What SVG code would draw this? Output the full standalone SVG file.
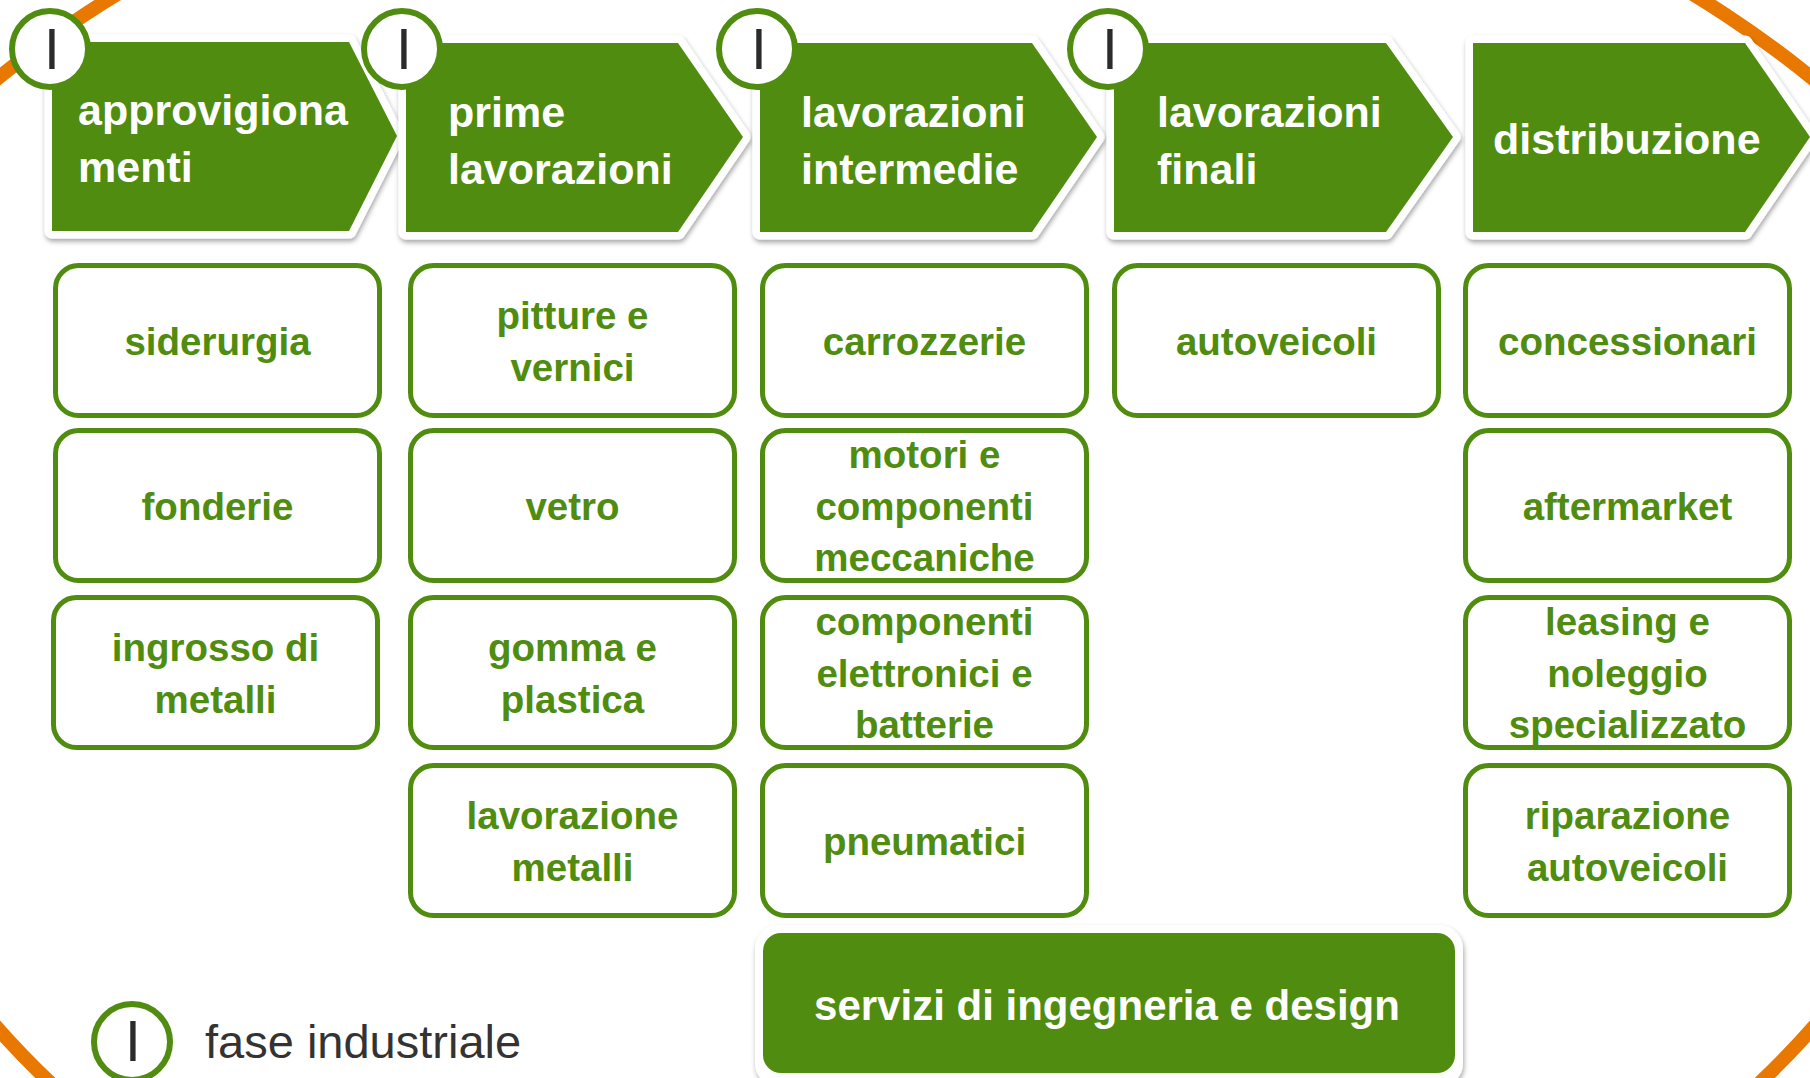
<svg xmlns="http://www.w3.org/2000/svg" width="1810" height="1078" viewBox="0 0 1810 1078">
<defs>
<filter id="sh" x="-10%" y="-10%" width="120%" height="130%">
<feDropShadow dx="1" dy="3" stdDeviation="2.5" flood-color="#000" flood-opacity="0.35"/>
</filter>
<clipPath id="topHalf"><rect x="-500" y="-500" width="2810" height="1045"/></clipPath>
<clipPath id="botHalf"><rect x="-500" y="545" width="2810" height="1000"/></clipPath>
<style>
.g{fill:#4f8c0f}
.arc{fill:none;stroke:#e87800;stroke-width:14}
.plate{fill:#fff;stroke:#fff;stroke-width:15;stroke-linejoin:round}
.ring{fill:#fff;stroke:#4f8c0f;stroke-width:6}
.num{font-family:"Liberation Sans",Arial,sans-serif;font-size:57px;fill:#2b2b2b;text-anchor:middle}
.ct{font-family:"Liberation Sans",Arial,sans-serif;font-weight:bold;font-size:43px;fill:#fff}
.box rect{fill:#fff;stroke:#4f8c0f;stroke-width:5}
.bt{font-family:"Liberation Sans",Arial,sans-serif;font-weight:bold;font-size:38.5px;fill:#4f8c0f;text-anchor:middle}
</style>
</defs>
<rect width="1810" height="1078" fill="#fff"/>
<g id="frame">
<ellipse class="arc" clip-path="url(#topHalf)" cx="905" cy="552" rx="1160" ry="760"/>
<ellipse class="arc" clip-path="url(#botHalf)" cx="905" cy="547" rx="1100" ry="851"/>
</g>

<g id="phase1">
<polygon class="plate" filter="url(#sh)" points="52,42 349,42 397,136 349,231 52,231"/>
<polygon class="g" points="52,42 349,42 397,136 349,231 52,231"/>
<circle class="ring" cx="50" cy="49" r="38"/>
<text class="num" x="52" y="69">I</text>
<text class="ct" x="78" y="125">approvigiona</text>
<text class="ct" x="78" y="182">menti</text>
</g>
<g id="phase2">
<polygon class="plate" filter="url(#sh)" points="406,43 678,43 743,137 678,232 406,232"/>
<polygon class="g" points="406,43 678,43 743,137 678,232 406,232"/>
<circle class="ring" cx="402" cy="49" r="38"/>
<text class="num" x="404" y="69">I</text>
<text class="ct" x="448" y="127">prime</text>
<text class="ct" x="448" y="184">lavorazioni</text>
</g>
<g id="phase3">
<polygon class="plate" filter="url(#sh)" points="760,43 1032,43 1097,137 1032,232 760,232"/>
<polygon class="g" points="760,43 1032,43 1097,137 1032,232 760,232"/>
<circle class="ring" cx="757" cy="49" r="38"/>
<text class="num" x="759" y="69">I</text>
<text class="ct" x="801" y="127">lavorazioni</text>
<text class="ct" x="801" y="184">intermedie</text>
</g>
<g id="phase4">
<polygon class="plate" filter="url(#sh)" points="1114,43 1386,43 1453,137 1386,232 1114,232"/>
<polygon class="g" points="1114,43 1386,43 1453,137 1386,232 1114,232"/>
<circle class="ring" cx="1108" cy="49" r="38"/>
<text class="num" x="1110" y="69">I</text>
<text class="ct" x="1157" y="127">lavorazioni</text>
<text class="ct" x="1157" y="184">finali</text>
</g>
<g id="phase5">
<polygon class="plate" filter="url(#sh)" points="1473,43 1745,43 1810,137 1745,232 1473,232"/>
<polygon class="g" points="1473,43 1745,43 1810,137 1745,232 1473,232"/>
<text class="ct" x="1493" y="154">distribuzione</text>
</g>

<g id="siderurgia" class="box"><rect x="55.5" y="265.5" width="324" height="150" rx="23"/><text class="bt" x="217.5" y="354.5">siderurgia</text></g>
<g id="fonderie" class="box"><rect x="55.5" y="430.5" width="324" height="150" rx="23"/><text class="bt" x="217.5" y="519.5">fonderie</text></g>
<g id="ingrosso" class="box"><rect x="53.5" y="597.5" width="324" height="150" rx="23"/><text class="bt" x="215.5" y="661"><tspan x="215.5">ingrosso di</tspan><tspan x="215.5" dy="51.5">metalli</tspan></text></g>

<g id="pitture" class="box"><rect x="410.5" y="265.5" width="324" height="150" rx="23"/><text class="bt" x="572.5" y="329"><tspan x="572.5">pitture e</tspan><tspan x="572.5" dy="51.5">vernici</tspan></text></g>
<g id="vetro" class="box"><rect x="410.5" y="430.5" width="324" height="150" rx="23"/><text class="bt" x="572.5" y="519.5">vetro</text></g>
<g id="gomma" class="box"><rect x="410.5" y="597.5" width="324" height="150" rx="23"/><text class="bt" x="572.5" y="661"><tspan x="572.5">gomma e</tspan><tspan x="572.5" dy="51.5">plastica</tspan></text></g>
<g id="lavmetalli" class="box"><rect x="410.5" y="765.5" width="324" height="150" rx="23"/><text class="bt" x="572.5" y="829"><tspan x="572.5">lavorazione</tspan><tspan x="572.5" dy="51.5">metalli</tspan></text></g>

<g id="carrozzerie" class="box"><rect x="762.5" y="265.5" width="324" height="150" rx="23"/><text class="bt" x="924.5" y="354.5">carrozzerie</text></g>
<g id="motori" class="box"><rect x="762.5" y="430.5" width="324" height="150" rx="23"/><text class="bt" x="924.5" y="468"><tspan x="924.5">motori e</tspan><tspan x="924.5" dy="51.5">componenti</tspan><tspan x="924.5" dy="51.5">meccaniche</tspan></text></g>
<g id="elettronici" class="box"><rect x="762.5" y="597.5" width="324" height="150" rx="23"/><text class="bt" x="924.5" y="635"><tspan x="924.5">componenti</tspan><tspan x="924.5" dy="51.5">elettronici e</tspan><tspan x="924.5" dy="51.5">batterie</tspan></text></g>
<g id="pneumatici" class="box"><rect x="762.5" y="765.5" width="324" height="150" rx="23"/><text class="bt" x="924.5" y="854.5">pneumatici</text></g>

<g id="autoveicoli" class="box"><rect x="1114.5" y="265.5" width="324" height="150" rx="23"/><text class="bt" x="1276.5" y="354.5">autoveicoli</text></g>

<g id="concessionari" class="box"><rect x="1465.5" y="265.5" width="324" height="150" rx="23"/><text class="bt" x="1627.5" y="354.5">concessionari</text></g>
<g id="aftermarket" class="box"><rect x="1465.5" y="430.5" width="324" height="150" rx="23"/><text class="bt" x="1627.5" y="519.5">aftermarket</text></g>
<g id="leasing" class="box"><rect x="1465.5" y="597.5" width="324" height="150" rx="23"/><text class="bt" x="1627.5" y="635"><tspan x="1627.5">leasing e</tspan><tspan x="1627.5" dy="51.5">noleggio</tspan><tspan x="1627.5" dy="51.5">specializzato</tspan></text></g>
<g id="riparazione" class="box"><rect x="1465.5" y="765.5" width="324" height="150" rx="23"/><text class="bt" x="1627.5" y="829"><tspan x="1627.5">riparazione</tspan><tspan x="1627.5" dy="51.5">autoveicoli</tspan></text></g>

<g id="servizi">
<rect x="755" y="925" width="708" height="162" rx="24" fill="#fff" filter="url(#sh)"/>
<rect class="g" x="763" y="933" width="692" height="140" rx="18"/>
<text x="1107" y="1020" font-family="Liberation Sans, Arial, sans-serif" font-weight="bold" font-size="42" fill="#fff" text-anchor="middle">servizi di ingegneria e design</text>
</g>

<g id="legend">
<circle class="ring" cx="132" cy="1042" r="38"/>
<text class="num" x="133" y="1061">I</text>
<text x="205" y="1058" font-family="Liberation Sans, Arial, sans-serif" font-size="47" fill="#333">fase industriale</text>
</g>

<g id="connectors"></g>
</svg>
